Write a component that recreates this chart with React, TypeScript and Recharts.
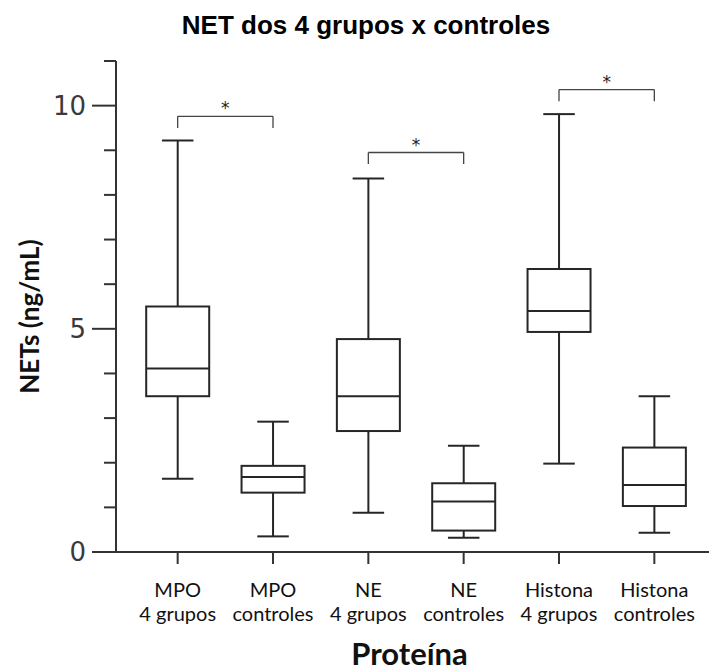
import { ComposedChart, Bar, XAxis, YAxis, ReferenceLine, Label } from 'recharts';

// box plot values (ng/mL)
const categories = [
  'MPO\n4 grupos',
  'MPO\ncontroles',
  'NE\n4 grupos',
  'NE\ncontroles',
  'Histona\n4 grupos',
  'Histona\ncontroles',
];
const minVals = [1.64, 0.35, 0.88, 0.32, 1.98, 0.43];
const q1Vals = [3.49, 1.33, 2.71, 0.48, 4.93, 1.03];
const medianVals = [4.11, 1.68, 3.49, 1.13, 5.4, 1.5];
const q3Vals = [5.5, 1.93, 4.77, 1.54, 6.34, 2.34];
const maxVals = [9.22, 2.92, 8.37, 2.38, 9.81, 3.49];

const yTicks = [0, 1, 2, 3, 4, 5, 6, 7, 8, 9, 10, 11];
const majorTicks = [0, 5, 10];

// significance brackets: pair of categories and bracket height
const bracketFrom = [0, 2, 4];
const bracketTo = [1, 3, 5];
const bracketLevel = [9.76, 8.95, 10.36];
const bracketDrop = 0.26;

const data = categories.map((name, i) => ({
  name,
  min: minVals[i],
  q1: q1Vals[i],
  median: medianVals[i],
  q3: q3Vals[i],
  max: maxVals[i],
}));

const INK = '#262626';
const AXIS = '#333';

function BoxShape(props: any) {
  const { x, y, width, height, payload } = props;
  if (!payload) return null;
  const top = Math.min(y, y + height);
  const h = Math.abs(height);
  const span = payload.max - payload.min;
  const toY = (v: number) => top + ((payload.max - v) / span) * h;
  const cx = x + width / 2;
  const cap = width / 2;
  const yMax = toY(payload.max);
  const yQ3 = toY(payload.q3);
  const yMed = toY(payload.median);
  const yQ1 = toY(payload.q1);
  const yMin = toY(payload.min);
  return (
    <g stroke={INK} strokeWidth={2} fill="none">
      <line x1={cx} x2={cx} y1={yMax} y2={yQ3} />
      <line x1={cx} x2={cx} y1={yQ1} y2={yMin} />
      <line x1={cx - cap / 2} x2={cx + cap / 2} y1={yMax} y2={yMax} />
      <line x1={cx - cap / 2} x2={cx + cap / 2} y1={yMin} y2={yMin} />
      <rect x={x} y={yQ3} width={width} height={yQ1 - yQ3} fill="#fff" />
      <line x1={x} x2={x + width} y1={yMed} y2={yMed} />
    </g>
  );
}

function YTick(props: any) {
  const { x, y, payload } = props;
  const major = majorTicks.includes(payload.value);
  const len = major ? 24 : 12;
  return (
    <g>
      <line x1={x - len} x2={x} y1={y} y2={y} stroke={AXIS} strokeWidth={2} />
      {major && (
        <text
          x={x - len - 6}
          y={y}
          dy="0.36em"
          textAnchor="end"
          fontFamily="DejaVu Sans"
          fontSize={26}
          fill="#3a3a3a"
        >
          {payload.value}
        </text>
      )}
    </g>
  );
}

function XTick(props: any) {
  const { x, y, payload } = props;
  const lines = String(payload.value).split('\n');
  return (
    <text x={x} y={y} textAnchor="middle" fontFamily="Lato" fontSize={20} fill="#111">
      {lines.map((t, i) => (
        <tspan key={i} x={x} dy={i === 0 ? 33 : 24}>
          {t}
        </tspan>
      ))}
    </text>
  );
}

export default function App() {
  return (
    <div style={{ position: 'absolute', left: 0, top: 0, width: 709, height: 671, background: '#fff' }}>
      <div
        style={{
          position: 'absolute',
          left: 0,
          top: 11,
          width: 732,
          textAlign: 'center',
          fontFamily: '"Liberation Sans", Arial, sans-serif',
          fontWeight: 'bold',
          fontSize: 26,
          lineHeight: '29px',
          color: '#000',
        }}
      >
        NET dos 4 grupos x controles
      </div>
      <ComposedChart
        width={709}
        height={671}
        data={data}
        margin={{ top: 61, right: 0, bottom: 0, left: 0 }}
        barCategoryGap="17%"
      >
        <XAxis
          dataKey="name"
          type="category"
          interval={0}
          height={119}
          padding={{ left: 14, right: 7 }}
          tickSize={12}
          tickMargin={0}
          axisLine={{ stroke: AXIS, strokeWidth: 2 }}
          tickLine={{ stroke: AXIS, strokeWidth: 2 }}
          tick={<XTick />}
        >
          <Label
            content={(p: any) => {
              const vb = p.viewBox;
              return (
                <text
                  x={vb.x + vb.width / 2 - 3}
                  y={vb.y + 113}
                  textAnchor="middle"
                  fontFamily="Lato"
                  fontWeight="bold"
                  fontSize={31}
                  fill="#111"
                >
                  Proteína
                </text>
              );
            }}
          />
        </XAxis>
        <YAxis
          type="number"
          domain={[0, 11]}
          ticks={yTicks}
          interval={0}
          width={116}
          tickSize={0}
          tickMargin={0}
          tickLine={false}
          axisLine={{ stroke: AXIS, strokeWidth: 2 }}
          tick={<YTick />}
        >
          <Label
            content={(p: any) => {
              const vb = p.viewBox;
              const cy = vb.y + vb.height / 2 + 10;
              return (
                <text
                  x={29}
                  y={cy}
                  transform={`rotate(-90 29 ${cy})`}
                  textAnchor="middle"
                  dominantBaseline="central"
                  fontFamily="Lato"
                  fontWeight="bold"
                  fontSize={26}
                  fill="#111"
                >
                  NETs (ng/mL)
                </text>
              );
            }}
          />
        </YAxis>
        <Bar
          dataKey={(d: any) => [d.min, d.max]}
          shape={<BoxShape />}
          isAnimationActive={false}
        />
        {bracketLevel.map((lvl, i) => (
          <ReferenceLine
            key={`h${i}`}
            segment={[
              { x: categories[bracketFrom[i]], y: lvl },
              { x: categories[bracketTo[i]], y: lvl },
            ]}
            stroke="#444"
            strokeWidth={1.3}
            label={{ value: '*', position: 'top', offset: 2, fontSize: 17, fill: '#222', fontFamily: 'DejaVu Sans' }}
          />
        ))}
        {bracketLevel.map((lvl, i) => (
          <ReferenceLine
            key={`l${i}`}
            segment={[
              { x: categories[bracketFrom[i]], y: lvl },
              { x: categories[bracketFrom[i]], y: lvl - bracketDrop },
            ]}
            stroke="#444"
            strokeWidth={1.3}
          />
        ))}
        {bracketLevel.map((lvl, i) => (
          <ReferenceLine
            key={`r${i}`}
            segment={[
              { x: categories[bracketTo[i]], y: lvl },
              { x: categories[bracketTo[i]], y: lvl - bracketDrop },
            ]}
            stroke="#444"
            strokeWidth={1.3}
          />
        ))}
      </ComposedChart>
    </div>
  );
}
